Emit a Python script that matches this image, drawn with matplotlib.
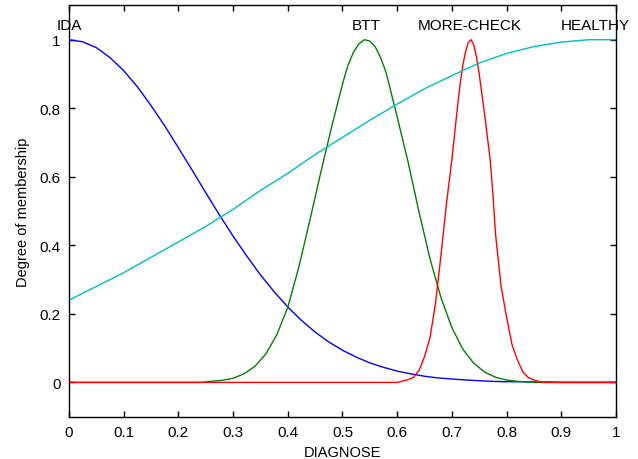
import matplotlib
matplotlib.use("Agg")
import matplotlib.pyplot as plt

plt.rcParams['font.family'] = ['Liberation Sans', 'DejaVu Sans']

# membership functions
x_ida = [0.0, 0.025, 0.05, 0.075, 0.1, 0.125, 0.15, 0.175, 0.2, 0.225,
         0.25, 0.275, 0.3, 0.325, 0.35, 0.375, 0.4, 0.425, 0.45, 0.475,
         0.5, 0.525, 0.55, 0.575, 0.6, 0.625, 0.65, 0.675, 0.7, 0.725,
         0.75, 0.775, 0.8, 0.825, 0.85, 0.875, 0.9, 0.925, 0.95, 0.975, 1.0]
y_ida = [1.000, 0.994, 0.977, 0.948, 0.910, 0.863, 0.808, 0.749, 0.685, 0.620,
         0.554, 0.489, 0.427, 0.369, 0.314, 0.265, 0.220, 0.181, 0.147, 0.118,
         0.094, 0.074, 0.057, 0.044, 0.033, 0.025, 0.018, 0.013, 0.010, 0.007,
         0.005, 0.003, 0.002, 0.002, 0.001, 0.001, 0.0, 0.0, 0.0, 0.0, 0.0]

x_btt = [0.0, 0.24, 0.26, 0.28, 0.30, 0.32, 0.34, 0.36, 0.38, 0.40, 0.42,
         0.44, 0.46, 0.48, 0.50, 0.51, 0.52, 0.53, 0.54, 0.55, 0.56, 0.57,
         0.58, 0.60, 0.62, 0.64, 0.66, 0.68, 0.70, 0.72, 0.74, 0.76, 0.78,
         0.80, 0.82, 0.84, 0.86, 0.88, 1.0]
y_btt = [0.0, 0.0, 0.003, 0.006, 0.012, 0.025, 0.047, 0.083, 0.139, 0.219, 0.335,
         0.470, 0.610, 0.744, 0.870, 0.925, 0.963, 0.988, 1.000, 0.996, 0.979, 0.947,
         0.903, 0.775, 0.643, 0.497, 0.361, 0.248, 0.160, 0.097, 0.056, 0.030, 0.015,
         0.007, 0.003, 0.001, 0.0, 0.0, 0.0]

x_more = [0.0, 0.60, 0.61, 0.62, 0.63, 0.64, 0.65, 0.66, 0.67, 0.68, 0.69,
          0.70, 0.71, 0.715, 0.72, 0.725, 0.73, 0.735, 0.74, 0.745, 0.75, 0.76,
          0.77, 0.775, 0.78, 0.79, 0.80, 0.81, 0.82, 0.83, 0.84, 0.85, 0.86, 0.87, 1.0]
y_more = [0.0, 0.0, 0.004, 0.008, 0.015, 0.035, 0.075, 0.13, 0.23, 0.37, 0.52,
          0.65, 0.80, 0.87, 0.925, 0.965, 0.992, 1.0, 0.985, 0.95, 0.90, 0.78,
          0.65, 0.55, 0.43, 0.28, 0.19, 0.11, 0.065, 0.03, 0.014, 0.007, 0.002, 0.0, 0.0]

x_healthy = [0.0, 0.05, 0.1, 0.15, 0.2, 0.25, 0.3, 0.35, 0.4, 0.45, 0.5,
             0.55, 0.6, 0.65, 0.7, 0.75, 0.8, 0.85, 0.9, 0.95, 1.0]
y_healthy = [0.24, 0.28, 0.32, 0.365, 0.41, 0.455, 0.505, 0.56, 0.61, 0.665, 0.715,
             0.765, 0.812, 0.857, 0.895, 0.932, 0.96, 0.98, 0.993, 1.0, 1.0]

mf_names = ["IDA", "BTT", "MORE-CHECK", "HEALTHY"]
name_pos = [0.0, 0.543, 0.733, 0.963]

fig = plt.figure(figsize=(6.38, 4.6), dpi=100)
ax = fig.add_axes([0.108, 0.092, 0.8575, 0.894])

ax.plot(x_ida, y_ida, color=(0, 0, 1), lw=1.0)
ax.plot(x_btt, y_btt, color=(0, 0.5, 0), lw=1.0)
ax.plot(x_more, y_more, color=(1, 0, 0), lw=1.0)
ax.plot(x_healthy, y_healthy, color=(0, 0.75, 0.75), lw=1.0)

for name, xp in zip(mf_names, name_pos):
    ax.text(xp, 1.03, name, ha='center', va='baseline', fontsize=11)

ax.set_xlim(0, 1)
ax.set_ylim(-0.1, 1.1)
ax.set_xticks([0, 0.1, 0.2, 0.3, 0.4, 0.5, 0.6, 0.7, 0.8, 0.9, 1])
ax.set_xticklabels(["0", "0.1", "0.2", "0.3", "0.4", "0.5", "0.6", "0.7", "0.8", "0.9", "1"])
ax.set_yticks([0, 0.2, 0.4, 0.6, 0.8, 1])
ax.set_yticklabels(["0", "0.2", "0.4", "0.6", "0.8", "1"])
ax.tick_params(direction='in', length=4, width=1, top=True, right=True,
               labelsize=11, pad=6)
for sp in ax.spines.values():
    sp.set_linewidth(1.0)

ax.set_xlabel("DIAGNOSE", fontsize=10.5, labelpad=4)
ax.set_ylabel("Degree of membership", fontsize=10.5, labelpad=7)

fig.savefig("out.png", dpi=100)
